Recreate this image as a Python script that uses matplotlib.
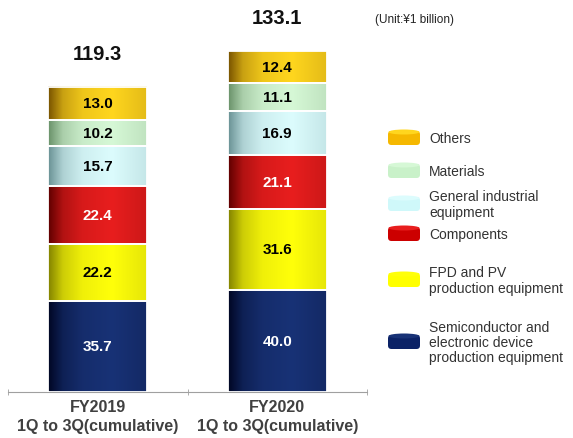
import numpy as np
import matplotlib
matplotlib.use('Agg')
from matplotlib import pyplot as plt
from matplotlib.patches import FancyBboxPatch, Ellipse

plt.rcParams['font.family'] = ['Liberation Sans', 'DejaVu Sans']

categories = ['FY2019\n1Q to 3Q(cumulative)', 'FY2020\n1Q to 3Q(cumulative)']
segments = ['Semiconductor and\nelectronic device\nproduction equipment',
            'FPD and PV\nproduction equipment',
            'Components',
            'General industrial\nequipment',
            'Materials',
            'Others']
semi = [35.7, 40.0]
fpd = [22.2, 31.6]
components = [22.4, 21.1]
general = [15.7, 16.9]
materials = [10.2, 11.1]
others = [13.0, 12.4]
totals = [119.3, 133.1]
series = [semi, fpd, components, general, materials, others]

# (dark edge, bright centre) for the cylinder shading
shades = [((0, 6, 35), (24, 50, 118)),
          ((130, 130, 0), (255, 255, 10)),
          ((95, 0, 0), (232, 30, 30)),
          ((105, 145, 148), (220, 252, 253)),
          ((105, 145, 105), (214, 248, 214)),
          ((120, 82, 0), (255, 214, 30))]
base = ['#0B2266', '#FFFF00', '#CC0000', '#CFF8FA', '#C9F1C9', '#F5B800']
txt_col = ['white', 'black', 'white', 'black', 'black', 'black']


def gradient(dark, light, n=200):
    t = np.linspace(0, 1, n)
    p = np.interp(t, [0, 0.15, 0.35, 0.65, 1], [0, 0.6, 0.88, 1, 0.8])
    d = np.array(dark) / 255.0
    l = np.array(light) / 255.0
    row = d[None, :] + (l - d)[None, :] * p[:, None]
    return row[None, :, :]


fig = plt.figure(figsize=(5.73, 4.39), dpi=100)
ax = fig.add_axes([8 / 573, 46 / 439, 359 / 573, 383 / 439])

x = np.arange(len(categories))
bottom = np.zeros(len(categories))
for vals, (dk, lt), tc in zip(series, shades, txt_col):
    bars = ax.bar(x, vals, width=0.55, bottom=bottom, color='none',
                  edgecolor='white', linewidth=1.3, zorder=3)
    for b, v in zip(bars, vals):
        x0, y0 = b.get_x(), b.get_y()
        ax.imshow(gradient(dk, lt), extent=[x0, x0 + b.get_width(), y0, y0 + b.get_height()],
                  aspect='auto', zorder=2, interpolation='bilinear')
        ax.text(x0 + b.get_width() / 2, y0 + v / 2, f'{v:.1f}', ha='center', va='center',
                color=tc, fontsize=11, fontweight='bold', zorder=4)
    bottom += np.array(vals)

for xi, t in zip(x, totals):
    ax.text(xi, t + 13, f'{t:.1f}', ha='center', va='center', fontsize=14.5,
            fontweight='bold', color='#111111')

ax.set_xlim(-0.5, 1.5)
ax.set_ylim(0, 149.6)
ax.set_xticks(x)
ax.set_xticklabels(categories, fontsize=11.5, fontweight='bold', color='#404040',
                   linespacing=1.3)
ax.set_xticks([-0.5, 0.5, 1.5], minor=True)
ax.tick_params(axis='x', which='major', length=0, pad=5)
ax.tick_params(axis='x', which='minor', length=5, direction='inout', color='#A0A0A0')
ax.set_yticks([])
for s in ['top', 'left', 'right']:
    ax.spines[s].set_visible(False)
ax.spines['bottom'].set_color('#A0A0A0')
ax.patch.set_alpha(0)

fig.text(375 / 573, 1 - 20 / 439, '(Unit:¥1 billion)', fontsize=8.5, color='#222222',
         va='center', ha='left')

# legend with small cylinder icons
lax = fig.add_axes([0, 0, 1, 1])
lax.set_xlim(0, 573)
lax.set_ylim(439, 0)
lax.axis('off')
leg_y = [343, 281, 235, 205, 172, 139]
for name, yy, (dk, lt), bc in zip(segments, leg_y, shades, base):
    body = FancyBboxPatch((388, yy - 7), 32, 14, boxstyle='round,pad=0,rounding_size=3.5',
                          facecolor=bc, edgecolor='none')
    lax.add_patch(body)
    top = Ellipse((404, yy - 6), 31, 5, facecolor=np.array(lt) / 255.0, edgecolor='none')
    lax.add_patch(top)
    lax.text(429, yy, name, fontsize=10, color='#333333', va='center', ha='left',
             linespacing=1.1)

fig.savefig('out.png', dpi=100)
